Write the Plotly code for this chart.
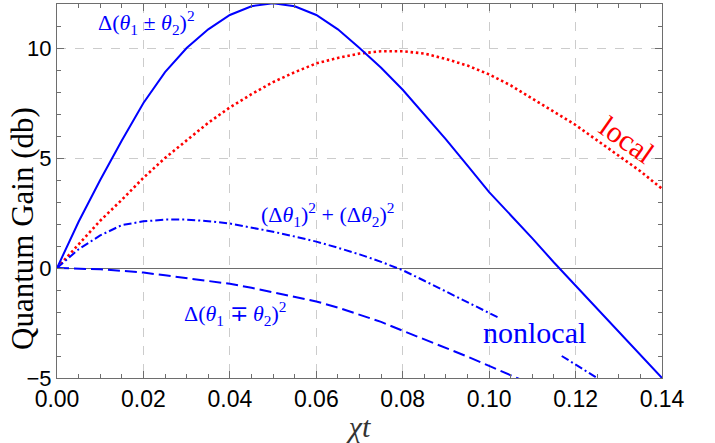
import plotly.graph_objects as go

# ---- data ----
chi_t = [0.000, 0.005, 0.010, 0.015, 0.020, 0.025, 0.030, 0.035, 0.040, 0.045,
         0.050, 0.055, 0.060, 0.065, 0.070, 0.075, 0.080, 0.085, 0.090, 0.095,
         0.100, 0.105, 0.110, 0.115, 0.120, 0.125, 0.130, 0.135, 0.140]

gain_sum_diff = [0.0, 2.1, 4.0, 5.8, 7.5, 8.9, 10.0, 10.85, 11.5, 11.9,
                 12.03, 11.9, 11.5, 10.85, 10.0, 9.1, 8.1, 7.0, 5.85, 4.65,
                 3.45, 2.4, 1.35, 0.25, -0.8, -1.85, -2.9, -3.95, -5.0]

gain_local = [0.0, 1.1, 2.15, 3.1, 4.1, 5.0, 5.8, 6.6, 7.3, 7.9,
              8.45, 8.9, 9.3, 9.55, 9.75, 9.85, 9.85, 9.75, 9.5, 9.2,
              8.8, 8.3, 7.7, 7.1, 6.5, 5.8, 5.1, 4.4, 3.6]

chi_t_var = [0.000, 0.005, 0.010, 0.015, 0.020, 0.025, 0.030, 0.035, 0.040, 0.045,
             0.050, 0.055, 0.060, 0.065, 0.070, 0.075, 0.080, 0.085, 0.090, 0.095,
             0.100, 0.102, 0.109, 0.1168, 0.120, 0.125]
gain_var_sum = [0.0, 0.85, 1.48, 1.95, 2.12, 2.2, 2.2, 2.13, 2.02, 1.85,
                1.65, 1.43, 1.2, 0.92, 0.62, 0.28, -0.1, -0.58, -1.06, -1.55,
                -2.04, -2.24, None, -4.0, -4.38, -5.0]

chi_t_mp = [0.000, 0.005, 0.010, 0.015, 0.020, 0.025, 0.030, 0.035, 0.040, 0.045,
            0.050, 0.055, 0.060, 0.065, 0.070, 0.075, 0.080, 0.085, 0.090, 0.095,
            0.100, 0.105, 0.110]
gain_mp = [0.0, -0.02, -0.06, -0.13, -0.21, -0.33, -0.45, -0.58, -0.72, -0.9,
           -1.1, -1.3, -1.52, -1.8, -2.13, -2.45, -2.85, -3.24, -3.63, -4.03,
           -4.45, -4.88, -5.3]

x_ticks = [0.00, 0.02, 0.04, 0.06, 0.08, 0.10, 0.12, 0.14]
x_tick_labels = ["0.00", "0.02", "0.04", "0.06", "0.08", "0.10", "0.12", "0.14"]
y_ticks = [-5, 0, 5, 10]

BLUE = "#0000ff"
RED = "#ff0000"
SERIF = "Liberation Serif"
SANS = "Liberation Sans"
FRAME = "#6e6e6e"

fig = go.Figure()
fig.add_trace(go.Scatter(x=chi_t, y=gain_local, mode="lines",
                         line=dict(color=RED, width=2.6, dash="2.5px,2.8px"),
                         name="local", showlegend=False))
fig.add_trace(go.Scatter(x=chi_t, y=gain_sum_diff, mode="lines",
                         line=dict(color=BLUE, width=2),
                         name="sum", showlegend=False))
fig.add_trace(go.Scatter(x=chi_t_var, y=gain_var_sum, mode="lines", connectgaps=False,
                         line=dict(color=BLUE, width=2, dash="8px,3px,2px,3px"),
                         name="var", showlegend=False))
fig.add_trace(go.Scatter(x=chi_t_mp, y=gain_mp, mode="lines",
                         line=dict(color=BLUE, width=2, dash="12px,5px"),
                         name="mp", showlegend=False))

ann_font = dict(family=SERIF, size=22, color=BLUE)
fig.add_annotation(x=0.0206, y=11.15, text="Δ(<i>θ</i><sub>1</sub> ± <i>θ</i><sub>2</sub>)<sup>2</sup>",
                   showarrow=False, font=ann_font)
fig.add_annotation(x=0.0625, y=2.45, text="(Δ<i>θ</i><sub>1</sub>)<sup>2</sup> + (Δ<i>θ</i><sub>2</sub>)<sup>2</sup>",
                   showarrow=False, font=ann_font)
fig.add_annotation(x=0.0414, y=-2.05, text="Δ(<i>θ</i><sub>1</sub> ∓ <i>θ</i><sub>2</sub>)<sup>2</sup>",
                   showarrow=False, font=ann_font)
fig.add_annotation(x=0.1104, y=-2.95, text="nonlocal", showarrow=False,
                   font=dict(family=SERIF, size=30, color=BLUE))
fig.add_annotation(x=0.1319, y=5.85, text="local", showarrow=False, textangle=35,
                   font=dict(family=SERIF, size=30, color=RED))
# y-axis title (placed below the axis centre, as in the reference)
fig.add_annotation(xref="paper", yref="paper", x=-0.057, y=0.40, xanchor="center", yanchor="middle",
                   text="Quantum Gain (db)", textangle=-90, showarrow=False,
                   font=dict(family=SERIF, size=31, color="black"))

axis_common = dict(showline=True, linecolor=FRAME, linewidth=1, mirror="allticks",
                   ticks="inside", ticklen=7, tickcolor=FRAME, tickwidth=1,
                   showgrid=True, gridcolor="#cccccc", griddash="dash", gridwidth=1)

fig.update_xaxes(range=[0, 0.14], tickvals=x_ticks, ticktext=x_tick_labels,
                 zeroline=False,
                 tickfont=dict(family=SANS, size=23, color="black"),
                 minor=dict(ticks="inside", ticklen=4, dtick=0.005, tick0=0,
                            tickcolor=FRAME, showgrid=False),
                 title=dict(text="<i>χt</i>", font=dict(family=SERIF, size=30, color="#333333"),
                            standoff=9),
                 **axis_common)
fig.update_yaxes(range=[-5, 12], tickvals=y_ticks,
                 zeroline=True, zerolinecolor=FRAME, zerolinewidth=1,
                 tickfont=dict(family=SANS, size=22, color="black"),
                 minor=dict(ticks="inside", ticklen=4, dtick=1, tick0=0,
                            tickcolor=FRAME, showgrid=False),
                 **axis_common)

fig.update_layout(width=715, height=443, margin=dict(l=57, r=53, t=4, b=65, autoexpand=False),
                  plot_bgcolor="white", paper_bgcolor="white", showlegend=False)

fig.write_html("out.html", config={"displayModeBar": False},
               post_script="document.body.style.margin='0px';")
